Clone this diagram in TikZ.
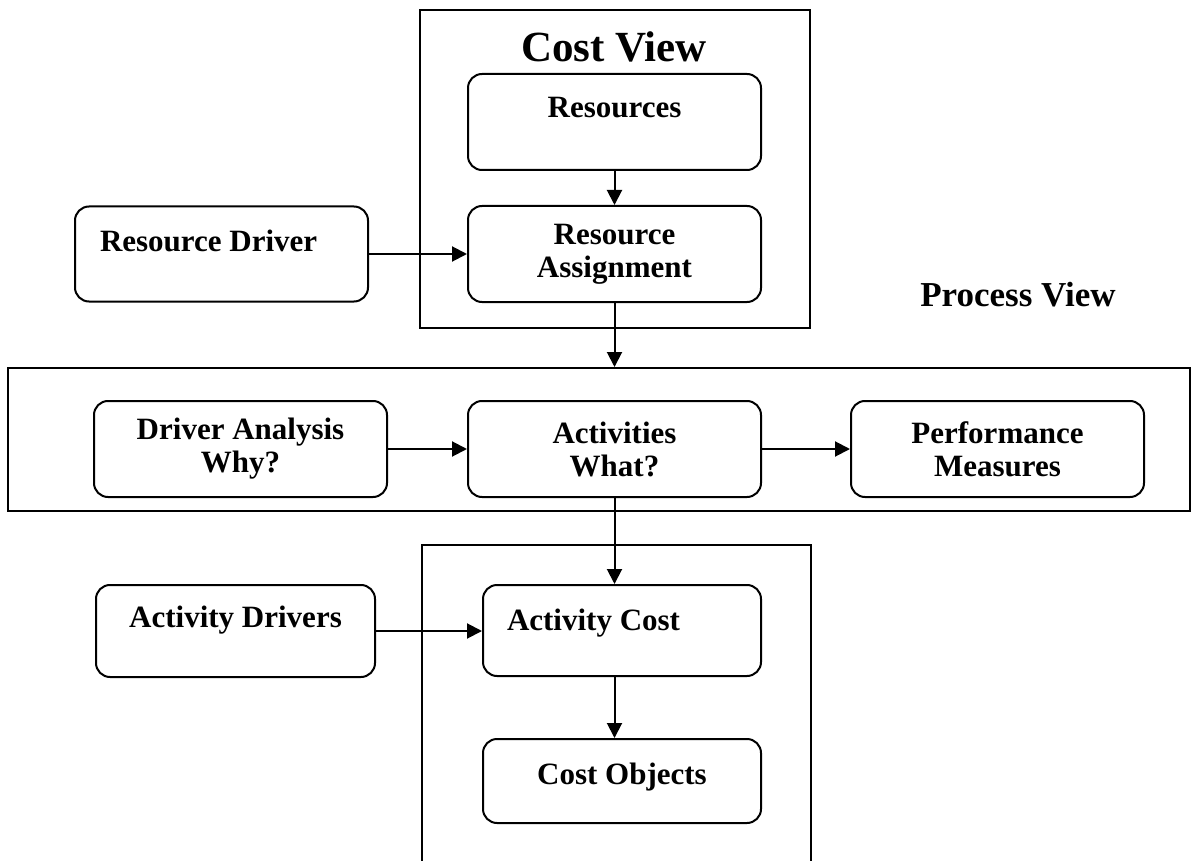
\documentclass[tikz,border=0pt]{standalone}
\usepackage{fontspec}
\setmainfont{Liberation Serif}
\usetikzlibrary{arrows.meta,positioning}

\begin{document}
\begin{tikzpicture}[
    x=1pt, y=-1pt,
    line width=2pt,
    box/.style={draw, rounded corners=14pt, minimum width=293pt, minimum height=96pt,
      align=center, inner sep=0pt, font=\fontsize{31}{33}\selectfont\bfseries},
    txt/.style={anchor=base, inner sep=0pt, font=\fontsize{31}{33}\selectfont\bfseries},
    frame/.style={draw, inner sep=0pt},
    heading/.style={anchor=base, inner sep=0pt},
    flow/.style={-{Triangle[length=15pt,width=15pt]}},
  ]
  \useasboundingbox (0,0) rectangle (1192,861);

  % the three views
  \node[frame, minimum width=390pt, minimum height=318pt] (costview) at (615,169) {};
  \node[frame, minimum width=1182pt, minimum height=143pt] (procview) at (599,439.5) {};
  \coordinate (actl) at (422,861);
  \coordinate (acttop) at (811,545);
  \coordinate (actr) at (811,861);
  \draw (actl) |- (acttop) -- (actr);

  \node[heading, font=\fontsize{43}{45}\selectfont\bfseries] (costtitle) at (614,62) {Cost View};
  \node[heading, font=\fontsize{35}{37}\selectfont\bfseries] (proctitle) at (1018,306) {Process View};

  % cost view
  \node[box] (res) at (614.5,122) {};
  \node[txt] (restxt) at ([yshift=4pt]res.center) {Resources};
  \node[box, below=34pt of res] (rasg) {Resource\\Assignment};
  \node[box, minimum height=95pt, left=98pt of rasg] (rdrv) {};
  \node[txt, anchor=base west] (rdrvtxt) at ([xshift=25pt,yshift=2pt]rdrv.west) {Resource Driver};

  % process view
  \node[box, below=97pt of rasg] (acts) {Activities\\What?};
  \node[box, left=79pt of acts] (dana) {Driver Analysis\\Why?};
  \node[box, right=88pt of acts] (perf) {Performance\\Measures};

  % activity cost
  \node[box, minimum width=278pt, minimum height=91pt] (acost) at (622,630.5) {};
  \node[txt, anchor=base west] (acosttxt) at ([xshift=24pt]acost.west) {Activity Cost};
  \node[box, minimum width=279pt, minimum height=92pt] (adrv) at (235.5,631) {};
  \node[txt] (adrvtxt) at ([yshift=4pt]adrv.center) {Activity Drivers};
  \node[box, minimum width=278pt, minimum height=84pt, below=61pt of acost] (cobj) {};
  \node[txt] (cobjtxt) at ([yshift=-3pt]cobj.center) {Cost Objects};

  % arrows
  \draw[flow] (res) -- (rasg);
  \draw[flow] (rdrv) -- (rasg);
  \draw[flow] (rasg) -- (rasg |- procview.north);
  \draw[flow] (dana) -- (acts);
  \draw[flow] (acts) -- (perf);
  \draw[flow] (acts) -- (acts |- acost.north);
  \draw[flow] (adrv) -- (adrv -| acost.west);
  \draw[flow] (acost.south -| acts) -- (cobj.north -| acts);
\end{tikzpicture}
\end{document}
